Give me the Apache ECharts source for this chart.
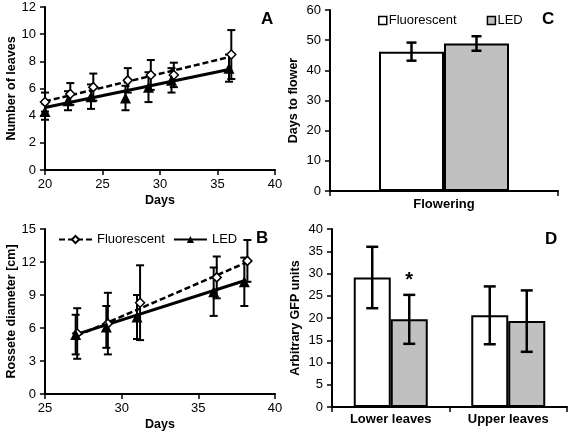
<!DOCTYPE html>
<html><head><meta charset="utf-8">
<script src="https://cdn.jsdelivr.net/npm/echarts@6/dist/echarts.min.js"></script>
<style>html,body{margin:0;padding:0;background:#fff}#c{width:568px;height:435px}</style>
</head><body><div id="c"></div>
<script>
// Panel A: number of leaves
const aFluoDays = [20, 22.2, 24.2, 27.2, 29.2, 31.2, 36.2];
const aFluoLeaves = [5.0, 5.6, 6.1, 6.6, 7.0, 7.0, 8.5];
const aFluoErr = [0.7, 0.8, 1.0, 0.9, 1.1, 0.9, 1.8];
const aLedDays = [20, 22, 24, 27, 29, 31, 36];
const aLedLeaves = [4.3, 5.1, 5.4, 5.3, 6.1, 6.6, 7.5];
const aLedErr = [0.6, 0.7, 0.9, 0.9, 1.1, 0.9, 1.0];
const aFluoTrend = [[20, 5.05], [36.2, 8.35]];
const aLedTrend = [[20, 4.6], [36, 7.4]];
// Panel B: rosette diameter
const bFluoDays = [27.1, 29.1, 31.2, 36.2, 38.2];
const bFluoDiam = [5.5, 6.4, 8.3, 10.6, 12.1];
const bFluoErr = [2.3, 2.8, 3.4, 1.9, 1.9];
const bLedDays = [27, 29, 31, 36, 38];
const bLedDiam = [5.4, 6.1, 7.0, 9.3, 10.2];
const bLedErr = [1.8, 1.9, 2.0, 2.2, 2.2];
const bFluoTrend = [[27.1, 5.3], [38.2, 12.0]];
const bLedTrend = [[27, 5.4], [38, 10.3]];
// Panel C: days to flower
const cCategories = ['Flowering'];
const cFluo = [46.2], cFluoErr = [3.0];
const cLed = [48.9], cLedErr = [2.4];
// Panel D: GFP
const dCategories = ['Lower leaves', 'Upper leaves'];
const dFluo = [29.1, 20.6], dFluoErr = [6.9, 6.5];
const dLed = [19.7, 19.3], dLedErr = [5.5, 6.9];
const dLedMarks = ['*', ''];

const FONT = "'Liberation Sans', Arial, sans-serif";
const K = '#000';
const GRAY = '#c0c0c0';

function errSeries(xi, yi, xs, ys, errs, cap, lw, offset, marks) {
  return {
    type: 'custom', xAxisIndex: xi, yAxisIndex: yi, z: 3, silent: true,
    encode: { x: 0, y: [1, 2] },
    data: xs.map((x, i) => [x, ys[i] - errs[i], ys[i] + errs[i], i]),
    renderItem: (params, api) => {
      const lo = api.coord([api.value(0), api.value(1)]);
      const hi = api.coord([api.value(0), api.value(2)]);
      const x = lo[0] + (offset || 0);
      const s = { stroke: K, lineWidth: lw };
      const ch = [
        { type: 'line', shape: { x1: x, y1: lo[1], x2: x, y2: hi[1] }, style: s },
        { type: 'line', shape: { x1: x - cap, y1: lo[1], x2: x + cap, y2: lo[1] }, style: s },
        { type: 'line', shape: { x1: x - cap, y1: hi[1], x2: x + cap, y2: hi[1] }, style: s }
      ];
      if (marks && marks[api.value(3)]) {
        ch.push({ type: 'text', x: x, y: hi[1] - 14,
          style: { text: marks[api.value(3)], font: 'bold 20px ' + FONT, fill: K, align: 'center', verticalAlign: 'middle' } });
      }
      return { type: 'group', children: ch };
    }
  };
}
const pair = (xs, ys) => xs.map((x, i) => [x, ys[i]]);

const axisCommon = {
  axisLine: { show: true, onZero: false, lineStyle: { color: K, width: 2 } },
  axisTick: { show: true, length: 5, lineStyle: { color: K, width: 1.5 } },
  splitLine: { show: false },
  axisLabel: { color: K, fontSize: 13, fontFamily: FONT },
  nameLocation: 'middle',
  nameTextStyle: { color: K, fontSize: 12.5, fontWeight: 'bold', fontFamily: FONT }
};
const ax = (o) => Object.assign({}, JSON.parse(JSON.stringify(axisCommon)), o);

const option = {
  animation: false,
  backgroundColor: '#fff',
  textStyle: { fontFamily: FONT },
  title: [
    { text: 'A', left: 256, top: 6 },
    { text: 'B', left: 251, top: 225 },
    { text: 'C', left: 537, top: 6 },
    { text: 'D', left: 540, top: 226 }
  ].map(t => Object.assign(t, { textStyle: { fontSize: 17, fontWeight: 'bold', color: K, fontFamily: FONT } })),
  legend: [
    { left: 53, top: 228, itemWidth: 33, itemHeight: 9, itemGap: 8,
      data: ['Fluorescent', 'LED'],
      textStyle: { color: K, fontSize: 13, fontFamily: FONT } },
    { left: 373, top: 9, itemWidth: 8, itemHeight: 8, itemGap: 30, icon: 'rect',
      data: ['Fluorescent_C', 'LED_C'], formatter: n => n.split('_')[0],
      itemStyle: { borderColor: K, borderWidth: 1.5 },
      textStyle: { color: K, fontSize: 13, fontFamily: FONT, padding: [0, 0, 0, -3] } }
  ],
  grid: [
    { left: 45, top: 7, width: 230, height: 163 },
    { left: 45, top: 229, width: 230, height: 165 },
    { left: 330, top: 10, width: 228, height: 181 },
    { left: 332, top: 229, width: 235, height: 178 }
  ],
  xAxis: [
    ax({ type: 'value', gridIndex: 0, min: 20, max: 40, interval: 5, name: 'Days', nameGap: 24, axisLabel: { color: K, fontSize: 13, fontFamily: FONT, margin: 8 } }),
    ax({ type: 'value', gridIndex: 1, min: 25, max: 40, interval: 5, name: 'Days', nameGap: 24, axisLabel: { color: K, fontSize: 13, fontFamily: FONT, margin: 8 } }),
    ax({ type: 'category', gridIndex: 2, data: cCategories, axisLabel: { color: K, fontSize: 13, fontWeight: 'bold', fontFamily: FONT, margin: 7 } }),
    ax({ type: 'category', gridIndex: 3, data: dCategories, axisLabel: { color: K, fontSize: 13, fontWeight: 'bold', fontFamily: FONT, margin: 6 } })
  ],
  yAxis: [
    ax({ type: 'value', gridIndex: 0, min: 0, max: 12, interval: 2, name: 'Number of leaves', nameGap: 27, axisLabel: { color: K, fontSize: 13, fontFamily: FONT, margin: 9 } }),
    ax({ type: 'value', gridIndex: 1, min: 0, max: 15, interval: 3, name: 'Rossete diameter [cm]', nameGap: 27, axisLabel: { color: K, fontSize: 13, fontFamily: FONT, margin: 9 } }),
    ax({ type: 'value', gridIndex: 2, min: 0, max: 60, interval: 10, name: 'Days to flower', nameGap: 30, axisLabel: { color: K, fontSize: 13, fontFamily: FONT, margin: 9 } }),
    ax({ type: 'value', gridIndex: 3, min: 0, max: 40, interval: 5, name: 'Arbitrary GFP units', nameGap: 30, axisLabel: { color: K, fontSize: 13, fontFamily: FONT, margin: 9 } })
  ],
  series: [
    // Panel A
    { name: 'A-Fluo-trend', type: 'line', xAxisIndex: 0, yAxisIndex: 0, data: aFluoTrend, showSymbol: false, z: 2,
      lineStyle: { color: K, width: 2.5, type: [6, 3] } },
    { name: 'A-LED-trend', type: 'line', xAxisIndex: 0, yAxisIndex: 0, data: aLedTrend, showSymbol: false, z: 2,
      lineStyle: { color: K, width: 3 } },
    errSeries(0, 0, aFluoDays, aFluoLeaves, aFluoErr, 4, 2),
    errSeries(0, 0, aLedDays, aLedLeaves, aLedErr, 4, 2),
    { name: 'A-Fluo', type: 'scatter', xAxisIndex: 0, yAxisIndex: 0, data: pair(aFluoDays, aFluoLeaves), z: 5,
      symbol: 'diamond', symbolSize: 9, itemStyle: { color: '#fff', borderColor: K, borderWidth: 1.5, opacity: 1 } },
    { name: 'A-LED', type: 'scatter', xAxisIndex: 0, yAxisIndex: 0, data: pair(aLedDays, aLedLeaves), z: 5,
      symbol: 'triangle', symbolSize: 11, itemStyle: { color: K, opacity: 1 } },
    // Panel B
    { name: 'Fluorescent', type: 'line', xAxisIndex: 1, yAxisIndex: 1, data: bFluoTrend, showSymbol: false, z: 2,
      symbol: 'diamond', symbolSize: 8, itemStyle: { color: '#fff', borderColor: K, borderWidth: 1.5 },
      lineStyle: { color: K, width: 2.5, type: [6, 3] } },
    { name: 'LED', type: 'line', xAxisIndex: 1, yAxisIndex: 1, data: bLedTrend, showSymbol: false, z: 2,
      symbol: 'triangle', symbolSize: 9, itemStyle: { color: K },
      lineStyle: { color: K, width: 3 } },
    errSeries(1, 1, bFluoDays, bFluoDiam, bFluoErr, 4, 2),
    errSeries(1, 1, bLedDays, bLedDiam, bLedErr, 4, 2),
    { name: 'B-Fluo', type: 'scatter', xAxisIndex: 1, yAxisIndex: 1, data: pair(bFluoDays, bFluoDiam), z: 5,
      symbol: 'diamond', symbolSize: 9, itemStyle: { color: '#fff', borderColor: K, borderWidth: 1.5, opacity: 1 } },
    { name: 'B-LED', type: 'scatter', xAxisIndex: 1, yAxisIndex: 1, data: pair(bLedDays, bLedDiam), z: 5,
      symbol: 'triangle', symbolSize: 11, itemStyle: { color: K, opacity: 1 } },
    // Panel C
    { name: 'Fluorescent_C', type: 'bar', xAxisIndex: 2, yAxisIndex: 2, data: cFluo, barWidth: 65, barGap: '0%',
      itemStyle: { color: '#fff', borderColor: K, borderWidth: 2 } },
    { name: 'LED_C', type: 'bar', xAxisIndex: 2, yAxisIndex: 2, data: cLed, barWidth: 65, barGap: '0%',
      itemStyle: { color: GRAY, borderColor: K, borderWidth: 2 } },
    errSeries(2, 2, [0], cFluo, cFluoErr, 5, 2.5, -32.5),
    errSeries(2, 2, [0], cLed, cLedErr, 5, 2.5, 32.5),
    // Panel D
    { name: 'D-Fluo', type: 'bar', xAxisIndex: 3, yAxisIndex: 3, data: dFluo, barWidth: 37, barGap: '0%',
      itemStyle: { color: '#fff', borderColor: K, borderWidth: 2 } },
    { name: 'D-LED', type: 'bar', xAxisIndex: 3, yAxisIndex: 3, data: dLed, barWidth: 37, barGap: '0%',
      itemStyle: { color: GRAY, borderColor: K, borderWidth: 2 } },
    errSeries(3, 3, [0, 1], dFluo, dFluoErr, 6, 2.5, -18.5),
    errSeries(3, 3, [0, 1], dLed, dLedErr, 6, 2.5, 18.5, dLedMarks)
  ]
};
const chart = echarts.init(document.getElementById('c'), null, { renderer: 'canvas' });
chart.setOption(option);
</script>
</body></html>
